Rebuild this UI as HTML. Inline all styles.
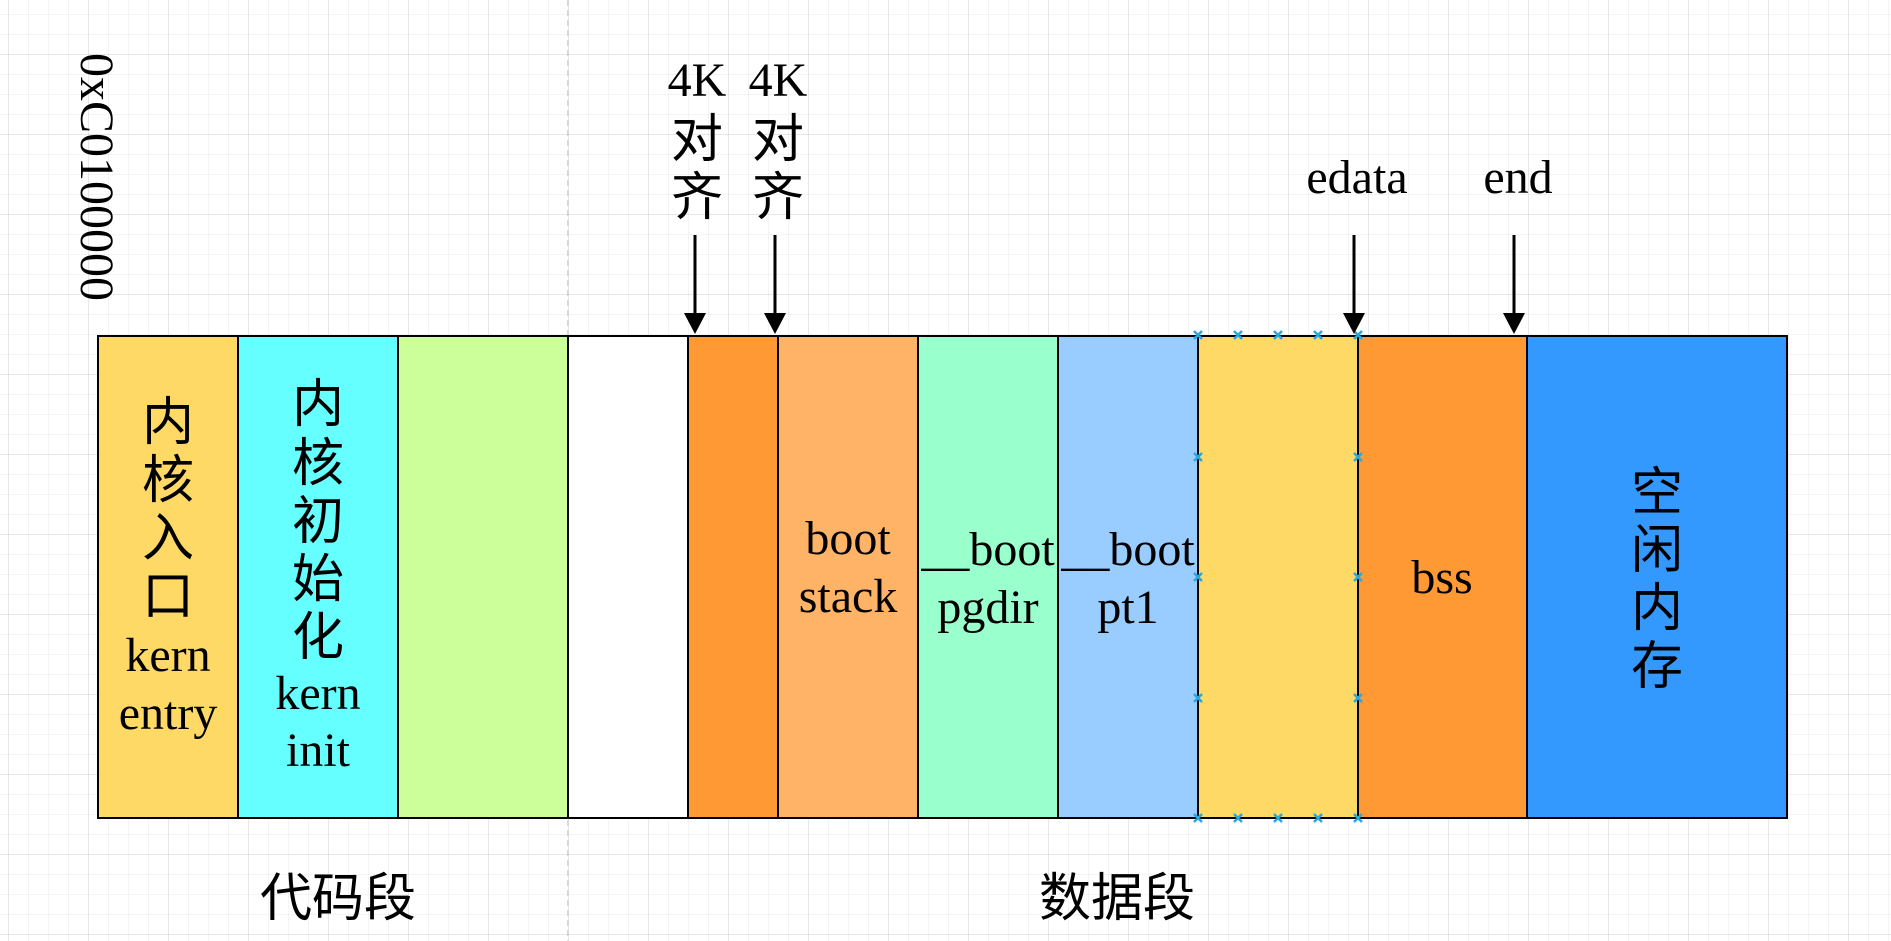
<!DOCTYPE html>
<html><head><meta charset="utf-8"><style>
html,body{margin:0;padding:0;background:#fff;}
svg{display:block;}
text{font-family:"Liberation Serif","Noto Sans CJK SC",serif;font-size:48px;fill:#000;}
.c{font-family:"Liberation Sans","Noto Sans CJK SC",sans-serif;font-size:52px;}
</style></head><body>
<svg width="1891" height="941" viewBox="0 0 1891 941" xmlns="http://www.w3.org/2000/svg">
<defs>
<pattern id="minor" x="8" y="14" width="20" height="20" patternUnits="userSpaceOnUse">
<path d="M0 0H20M0 0V20" stroke="#e8e8e8" stroke-width="1" fill="none"/>
</pattern>
<pattern id="major" x="8" y="54" width="80" height="80" patternUnits="userSpaceOnUse">
<path d="M0 0H80M0 0V80" stroke="#cfcfcf" stroke-width="1" fill="none"/>
</pattern>
</defs>
<rect width="1891" height="941" fill="url(#minor)"/>
<rect width="1891" height="941" fill="url(#major)"/>
<line x1="568" y1="0" x2="568" y2="941" stroke="#b0b0b0" stroke-width="1" stroke-dasharray="6,4"/>

<g stroke="#000" stroke-width="2">
<rect x="98" y="336" width="140" height="482" fill="#FFD966"/>
<rect x="238" y="336" width="160" height="482" fill="#66FFFF"/>
<rect x="398" y="336" width="170" height="482" fill="#CCFF99"/>
<rect x="568" y="336" width="120" height="482" fill="#FFFFFF"/>
<rect x="688" y="336" width="90" height="482" fill="#FF9933"/>
<rect x="778" y="336" width="140" height="482" fill="#FFB366"/>
<rect x="918" y="336" width="140" height="482" fill="#99FFCC"/>
<rect x="1058" y="336" width="140" height="482" fill="#99CCFF"/>
<rect x="1198" y="336" width="160" height="482" fill="#FFD966"/>
<rect x="1358" y="336" width="169" height="482" fill="#FF9933"/>
<rect x="1527" y="336" width="260" height="482" fill="#3399FF"/>
</g>

<g stroke="#29a8e0" stroke-width="2.5">
<path d="M1194 331l8 8M1202 331l-8 8M1234 331l8 8M1242 331l-8 8M1274 331l8 8M1282 331l-8 8M1314 331l8 8M1322 331l-8 8M1354 331l8 8M1362 331l-8 8"/>
<path d="M1194 814l8 8M1202 814l-8 8M1234 814l8 8M1242 814l-8 8M1274 814l8 8M1282 814l-8 8M1314 814l8 8M1322 814l-8 8M1354 814l8 8M1362 814l-8 8"/>
<path d="M1194 453l8 8M1202 453l-8 8M1194 573l8 8M1202 573l-8 8M1194 694l8 8M1202 694l-8 8"/>
<path d="M1354 453l8 8M1362 453l-8 8M1354 573l8 8M1362 573l-8 8M1354 694l8 8M1362 694l-8 8"/>
</g>

<g stroke="#000" stroke-width="3">
<line x1="695" y1="235" x2="695" y2="320"/>
<line x1="775" y1="235" x2="775" y2="320"/>
<line x1="1354" y1="235" x2="1354" y2="320"/>
<line x1="1514" y1="235" x2="1514" y2="320"/>
</g>
<g fill="#000">
<path d="M684 313h22l-11 21z"/>
<path d="M764 313h22l-11 21z"/>
<path d="M1343 313h22l-11 21z"/>
<path d="M1503 313h22l-11 21z"/>
</g>

<text transform="translate(81,53) rotate(90)" font-size="45">0xC0100000</text>

<g text-anchor="middle">
<text x="697" y="96">4K</text>
<text x="697" y="157" class="c">对</text>
<text x="697" y="215" class="c">齐</text>
<text x="778" y="96">4K</text>
<text x="778" y="157" class="c">对</text>
<text x="778" y="215" class="c">齐</text>
<text x="1357" y="193">edata</text>
<text x="1518" y="193">end</text>

<text x="168" y="440" class="c">内</text>
<text x="168" y="498" class="c">核</text>
<text x="168" y="556" class="c">入</text>
<text x="168" y="614" class="c">口</text>
<text x="168" y="671">kern</text>
<text x="168" y="729">entry</text>

<text x="318" y="422" class="c">内</text>
<text x="318" y="481" class="c">核</text>
<text x="318" y="539" class="c">初</text>
<text x="318" y="597" class="c">始</text>
<text x="318" y="655" class="c">化</text>
<text x="318" y="709">kern</text>
<text x="318" y="766">init</text>

<text x="848" y="554">boot</text>
<text x="848" y="612">stack</text>
<text x="988" y="565">__boot</text>
<text x="988" y="623">pgdir</text>
<text x="1128" y="565">__boot</text>
<text x="1128" y="623">pt1</text>
<text x="1442" y="593">bss</text>

<text x="1657" y="510" class="c">空</text>
<text x="1657" y="568" class="c">闲</text>
<text x="1657" y="626" class="c">内</text>
<text x="1657" y="684" class="c">存</text>

<text x="338" y="916" class="c">代码段</text>
<text x="1117" y="916" class="c">数据段</text>
</g>
</svg>
</body></html>
